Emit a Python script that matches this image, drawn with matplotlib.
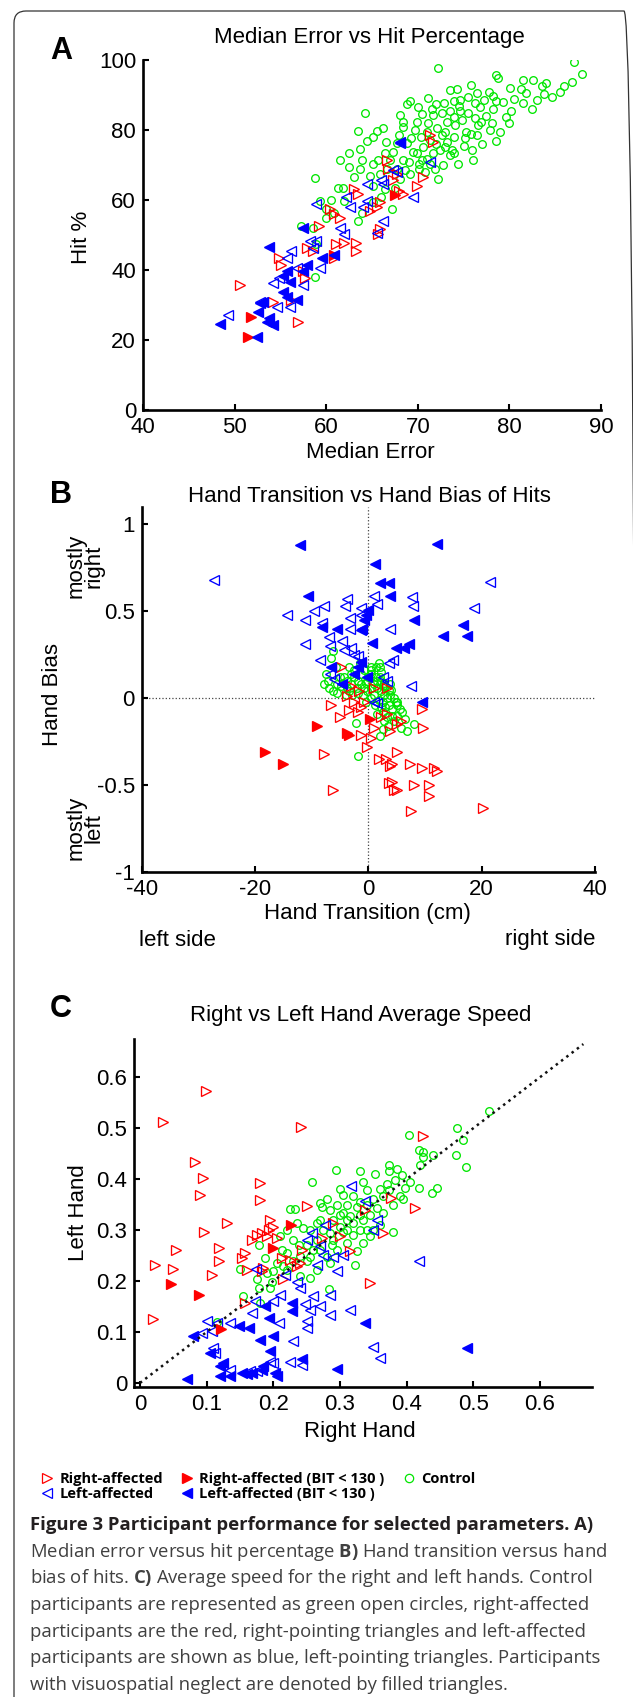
import numpy as np
import matplotlib
matplotlib.use("Agg")
import matplotlib.pyplot as plt
from matplotlib.lines import Line2D
from matplotlib.patches import FancyBboxPatch

plt.rcParams['font.family'] = ['Liberation Sans', 'DejaVu Sans']
plt.rcParams['axes.unicode_minus'] = False
plt.rcParams['mathtext.fontset'] = 'custom'
plt.rcParams['mathtext.rm'] = 'Open Sans'
plt.rcParams['mathtext.bf'] = 'Open Sans:bold'

# ---------------- data ----------------
# panel A: median error vs hit %
a_control = np.array([
    (72.2, 97.7), (87.1, 99.4), (87.9, 96.0), (86.8, 93.8), (78.5, 95.8), (78.8, 94.9), (75.8, 93.0),
    (82.6, 94.2), (81.5, 94.4), (80.1, 92.0), (81.3, 91.7), (81.8, 90.6), (83.6, 92.7), (83.8, 90.4),
    (84.7, 89.4), (81.5, 87.7), (80.2, 85.3), (79.6, 83.7), (78.1, 81.9), (78.2, 86.0), (77.8, 91.0),
    (78.2, 89.8), (78.5, 88.2), (77.2, 88.7), (76.2, 87.7), (73.5, 91.3), (74.3, 91.7), (71.1, 89.1),
    (69.1, 88.2), (68.8, 87.5), (72.0, 87.3), (72.9, 87.7), (73.9, 88.2), (74.6, 88.7), (64.2, 85.0),
    (68.1, 84.3), (68.4, 82.4), (68.4, 80.8), (69.9, 82.4), (69.7, 80.0), (71.1, 81.9), (71.7, 84.3),
    (72.6, 84.8), (66.2, 80.6), (65.6, 79.8), (63.5, 79.8), (65.1, 78.1), (61.5, 71.3), (62.5, 73.3),
    (58.8, 66.3), (61.3, 63.5), (63.7, 74.7), (63.9, 71.3), (63.7, 68.9), (59.3, 59.8), (60.0, 57.4),
    (60.0, 55.0), (57.2, 52.6), (58.6, 52.1), (58.9, 47.3), (58.8, 37.9), (67.2, 57.4), (72.2, 66.1),
    (75.9, 74.4), (75.2, 77.6), (76.6, 81.4), (75.3, 79.5), (75.8, 79.0), (73.5, 72.8), (74.4, 70.4),
    (73.7, 74.2), (72.8, 69.9), (71.9, 68.9), (65.9, 67.5), (65.1, 64.1), (66.4, 63.2), (68.1, 66.1),
    (69.1, 67.5), (67.0, 71.3), (68.4, 71.3), (69.9, 73.3), (70.6, 75.2), (68.8, 76.2), (67.7, 76.2),
    (65.1, 70.4), (64.8, 67.0), (65.1, 59.3), (63.9, 56.4), (63.5, 54.0), (60.8, 56.4), (61.9, 59.8),
    (72.1, 80.5), (72.6, 78.6), (73.2, 76.6), (74.1, 81.4), (74.8, 82.9), (75.5, 84.8), (76.2, 83.4),
    (74.6, 85.3), (73.9, 83.8), (73.2, 82.4), (71.3, 77.1), (71.0, 79.5), (70.4, 78.1), (69.3, 77.6),
    (71.7, 73.3), (72.4, 74.2), (73.0, 75.2), (71.0, 71.8), (70.1, 70.4), (71.3, 70.4), (69.5, 73.8),
    (67.3, 73.8), (66.4, 73.3), (65.7, 71.3), (66.6, 68.9), (67.7, 68.9), (68.6, 68.5), (70.1, 68.9),
    (70.8, 68.0), (76.8, 86.5), (77.5, 84.0), (76.9, 82.2), (77.9, 80.0), (76.5, 78.5), (77.0, 76.0),
    (75.0, 75.5), (74.0, 78.0), (73.0, 79.5), (74.5, 86.8), (75.5, 89.5), (76.5, 90.5), (79.3, 88.0),
    (80.5, 89.0), (71.5, 86.0), (70.5, 84.5), (70.0, 86.5), (73.5, 85.5), (72.0, 76.0), (69.0, 71.0),
    (68.0, 78.5), (66.5, 76.5), (64.5, 77.0), (62.5, 69.5), (63.0, 66.5), (61.8, 63.5), (60.5, 60.0),
    (66.0, 61.0), (67.5, 63.5), (70.5, 71.5), (74.0, 73.5), (76.0, 71.5), (78.5, 77.0), (79.0, 79.5),
    (80.0, 82.0), (82.5, 86.0), (83.0, 88.5), (85.5, 91.0), (86.0, 92.5), (84.0, 93.5)])
a_right = np.array([
    (50.6, 35.8), (56.9, 25.2), (71.3, 78.6), (71.7, 76.6), (70.6, 66.7), (69.9, 64.1), (68.4, 61.7),
    (67.9, 62.5), (66.6, 71.3), (66.8, 68.9), (67.7, 67.5), (67.3, 65.6), (63.0, 63.2), (63.5, 61.7),
    (60.4, 57.4), (60.8, 56.0), (61.5, 55.0), (59.2, 52.6), (63.3, 47.8), (63.3, 45.4), (61.9, 47.8),
    (61.1, 47.3), (60.8, 43.5), (57.9, 46.3), (58.6, 45.4), (54.9, 43.5), (55.1, 41.5), (57.5, 39.6),
    (57.7, 37.7), (54.2, 31.0), (56.2, 31.4), (65.9, 51.6), (65.7, 50.2), (64.8, 56.9), (65.5, 57.9),
    (65.9, 59.3)])
a_right_bit = np.array([(51.8, 26.6), (51.5, 20.9), (67.5, 61.3), (60.9, 44.4)])
a_left = np.array([
    (49.3, 27.1), (54.2, 36.3), (54.8, 37.7), (56.2, 45.4), (55.7, 43.5), (58.9, 58.8), (64.4, 64.6),
    (66.2, 64.6), (66.0, 65.6), (67.3, 68.5), (67.7, 68.0), (68.1, 76.2), (71.3, 70.9), (69.5, 60.8),
    (66.2, 54.0), (65.5, 50.7), (64.4, 59.8), (64.0, 57.9), (62.2, 60.8), (62.6, 57.9), (61.5, 52.1),
    (61.9, 50.2), (58.9, 48.3), (59.3, 40.6), (58.2, 48.3), (58.6, 46.3), (57.5, 35.8), (56.0, 29.5),
    (54.6, 29.5), (52.8, 31.0), (56.8, 40.6)])
a_left_bit = np.array([
    (48.4, 24.7), (52.4, 20.9), (53.8, 46.5), (57.5, 51.9), (59.5, 43.5), (57.9, 41.5), (57.5, 39.6),
    (55.7, 39.6), (55.3, 38.2), (56.0, 36.7), (56.8, 31.4), (55.3, 33.8), (55.7, 32.4), (53.1, 31.0),
    (52.8, 30.5), (53.8, 26.2), (54.2, 24.2), (53.5, 25.2), (52.6, 28.1), (68.1, 76.6), (60.8, 44.4)])

# panel B: hand transition (cm) vs hand bias
b_control = np.array([
    (-1.8, -0.33), (-2.1, -0.14), (2.1, -0.22), (6.9, -0.19), (8.0, -0.15), (5.7, -0.17), (4.8, -0.02),
    (5.0, -0.04), (3.3, -0.11), (4.2, -0.10), (2.8, -0.13), (1.9, 0.20), (2.1, 0.18), (2.2, 0.15),
    (-6.3, 0.27), (-6.6, 0.23), (-7.5, 0.14), (-7.8, 0.08), (-6.9, 0.06), (-6.3, 0.04), (-5.5, 0.03),
    (-4.3, 0.12), (-3.7, 0.10), (-3.1, 0.08), (-2.5, 0.12), (-1.9, 0.10), (-1.3, 0.08), (-0.8, 0.06),
    (-0.2, 0.04), (0.4, 0.06), (1.0, 0.08), (1.6, 0.06), (2.2, 0.04), (2.8, 0.02), (3.3, 0.00),
    (3.9, 0.02), (1.0, 0.02), (0.4, 0.00), (-0.2, 0.10), (-1.3, 0.14), (-2.5, 0.16), (-3.7, 0.06),
    (-4.9, 0.07), (0.4, 0.14), (1.3, 0.12), (2.2, 0.10), (3.0, 0.07), (1.9, -0.01), (2.5, -0.02),
    (3.6, -0.04), (4.2, -0.06), (-1.9, 0.03), (-2.8, 0.02), (-0.8, 0.16), (0.4, 0.18), (1.3, 0.18),
    (2.5, 0.07), (3.6, 0.05), (1.6, -0.09), (2.5, -0.08), (4.5, -0.13), (5.1, -0.02), (-7.2, 0.10),
    (-5.7, 0.18), (-5.0, 0.12), (-4.0, 0.02), (0.0, 0.12), (1.5, 0.10), (3.0, -0.05), (4.0, 0.05),
    (-1.0, 0.02), (2.0, 0.12), (5.5, -0.06), (-3.0, 0.14), (-4.5, 0.09), (-3.5, 0.04), (-2.0, 0.06),
    (-0.5, 0.09), (0.8, 0.10), (2.8, 0.09), (3.8, 0.08), (4.5, 0.00), (1.2, -0.04), (2.2, -0.05),
    (-0.5, -0.02), (0.5, 0.16), (-1.5, 0.20), (-3.5, 0.18), (-5.5, 0.08), (6.0, -0.08), (6.5, -0.12),
    (5.0, -0.10), (3.5, -0.16), (2.5, -0.18)])
b_right = np.array([
    (-6.6, -0.04), (-5.0, -0.11), (-7.8, -0.32), (-6.2, -0.53), (20.2, -0.63), (7.6, -0.65), (10.7, -0.56),
    (10.7, -0.50), (8.1, -0.50), (4.5, -0.53), (5.1, -0.53), (3.6, -0.49), (4.2, -0.48), (11.5, -0.40),
    (12.1, -0.42), (9.5, -0.40), (7.4, -0.38), (1.9, -0.35), (3.2, -0.35), (3.9, -0.39), (4.2, -0.38),
    (5.0, -0.31), (-0.3, -0.28), (0.4, -0.23), (-1.3, -0.21), (3.8, -0.19), (9.6, -0.17), (5.7, -0.13),
    (5.1, -0.15), (9.5, -0.06), (-3.7, 0.01), (-2.5, -0.02), (-3.4, -0.07), (-1.9, -0.08), (-1.3, -0.05),
    (-0.8, -0.02), (-4.9, 0.18), (2.2, -0.11), (3.3, -0.09), (1.0, -0.17), (-3.1, 0.07), (-1.6, 0.04),
    (1.0, 0.06), (3.3, 0.06)])
b_right_bit = np.array([(-18.2, -0.31), (-15.0, -0.38), (-9.1, -0.16), (-3.7, -0.20), (-3.5, -0.21), (0.3, -0.12)])
b_left = np.array([
    (-27.3, 0.68), (21.5, 0.67), (18.6, 0.52), (7.7, 0.58), (7.9, 0.53), (1.0, 0.59), (1.6, 0.54),
    (-3.7, 0.57), (-4.2, 0.53), (-1.3, 0.52), (-1.3, 0.48), (-9.6, 0.50), (-7.8, 0.53), (-14.4, 0.48),
    (-11.1, 0.45), (-8.1, 0.43), (-3.2, 0.46), (-3.2, 0.40), (3.8, 0.40), (-11.2, 0.31), (-6.9, 0.35),
    (-6.7, 0.30), (-4.6, 0.33), (-4.3, 0.28), (-3.1, 0.29), (-2.5, 0.25), (-1.9, 0.24), (-8.5, 0.22),
    (3.6, 0.20), (4.4, 0.22), (7.6, 0.07), (2.5, 0.12), (3.3, 0.10), (-6.7, 0.14), (-6.0, 0.11),
    (1.0, -0.02), (1.6, -0.03)])
b_left_bit = np.array([
    (-12.0, 0.88), (12.1, 0.89), (1.2, 0.77), (2.1, 0.66), (3.6, 0.66), (3.9, 0.59), (-10.6, 0.59),
    (0.0, 0.51), (-0.5, 0.48), (-0.8, 0.45), (-8.1, 0.41), (-5.5, 0.40), (-1.3, 0.39), (-1.1, 0.40),
    (0.7, 0.32), (8.1, 0.45), (13.2, 0.36), (16.7, 0.42), (17.4, 0.36), (4.8, 0.29), (6.3, 0.29),
    (7.2, 0.31), (-6.6, 0.18), (-4.6, 0.08), (-1.9, 0.18), (-1.3, 0.21), (-2.5, 0.14), (9.4, -0.02),
    (-0.2, 0.12)])

# panel C: right vs left hand average speed
c_control = np.array([
    (0.524, 0.533), (0.475, 0.501), (0.485, 0.477), (0.474, 0.448), (0.489, 0.424), (0.404, 0.487),
    (0.418, 0.458), (0.424, 0.454), (0.425, 0.444), (0.420, 0.428), (0.440, 0.448), (0.418, 0.382),
    (0.438, 0.373), (0.446, 0.382), (0.374, 0.428), (0.373, 0.416), (0.353, 0.410), (0.330, 0.416),
    (0.335, 0.395), (0.340, 0.379), (0.294, 0.417), (0.258, 0.394), (0.383, 0.399), (0.393, 0.408),
    (0.398, 0.382), (0.390, 0.366), (0.380, 0.350), (0.380, 0.297), (0.373, 0.379), (0.365, 0.366),
    (0.225, 0.341), (0.233, 0.341), (0.270, 0.354), (0.273, 0.346), (0.305, 0.369), (0.320, 0.366),
    (0.310, 0.350), (0.325, 0.346), (0.305, 0.333), (0.315, 0.327), (0.285, 0.340), (0.290, 0.320),
    (0.300, 0.307), (0.285, 0.294), (0.265, 0.314), (0.255, 0.301), (0.235, 0.314), (0.245, 0.304),
    (0.220, 0.301), (0.210, 0.288), (0.230, 0.281), (0.238, 0.271), (0.178, 0.271), (0.150, 0.224),
    (0.188, 0.245), (0.190, 0.216), (0.198, 0.199), (0.195, 0.186), (0.175, 0.203), (0.178, 0.186),
    (0.155, 0.170), (0.180, 0.157), (0.255, 0.206), (0.284, 0.184), (0.322, 0.231), (0.325, 0.258),
    (0.115, 0.119), (0.335, 0.275), (0.345, 0.288), (0.310, 0.275), (0.305, 0.297), (0.330, 0.301),
    (0.320, 0.314), (0.260, 0.261), (0.255, 0.248), (0.220, 0.255), (0.213, 0.261), (0.205, 0.235),
    (0.220, 0.222), (0.365, 0.333), (0.355, 0.343), (0.345, 0.330), (0.335, 0.320), (0.288, 0.271),
    (0.295, 0.261), (0.280, 0.248), (0.285, 0.235), (0.265, 0.222), (0.240, 0.209), (0.300, 0.330),
    (0.310, 0.300), (0.320, 0.290), (0.330, 0.330), (0.340, 0.350), (0.350, 0.360), (0.360, 0.380),
    (0.370, 0.390), (0.385, 0.420), (0.395, 0.360), (0.405, 0.395), (0.275, 0.300), (0.265, 0.280),
    (0.250, 0.270), (0.240, 0.250), (0.230, 0.240), (0.215, 0.230), (0.200, 0.220), (0.270, 0.320),
    (0.295, 0.350), (0.300, 0.380), (0.280, 0.360), (0.350, 0.300), (0.360, 0.310), (0.340, 0.300),
    (0.250, 0.240), (0.270, 0.260), (0.310, 0.320), (0.330, 0.355), (0.290, 0.280)])
c_right = np.array([
    (0.099, 0.572), (0.035, 0.512), (0.241, 0.503), (0.083, 0.433), (0.094, 0.403), (0.090, 0.368),
    (0.180, 0.393), (0.180, 0.359), (0.130, 0.314), (0.096, 0.297), (0.054, 0.261), (0.118, 0.265),
    (0.119, 0.240), (0.023, 0.231), (0.049, 0.224), (0.108, 0.212), (0.019, 0.125), (0.425, 0.484),
    (0.413, 0.344), (0.376, 0.363), (0.338, 0.340), (0.345, 0.196), (0.250, 0.348), (0.195, 0.320),
    (0.200, 0.307), (0.193, 0.301), (0.168, 0.281), (0.175, 0.291), (0.183, 0.294), (0.190, 0.288),
    (0.205, 0.284), (0.158, 0.255), (0.153, 0.245), (0.160, 0.222), (0.183, 0.219), (0.185, 0.225),
    (0.213, 0.245), (0.225, 0.242), (0.235, 0.229), (0.240, 0.235), (0.243, 0.261), (0.273, 0.284),
    (0.300, 0.288), (0.158, 0.157), (0.315, 0.258), (0.215, 0.203), (0.289, 0.314), (0.365, 0.294)])
c_right_bit = np.array([(0.226, 0.310), (0.199, 0.265), (0.046, 0.194), (0.089, 0.172), (0.121, 0.105)])
c_left = np.array([
    (0.316, 0.386), (0.338, 0.358), (0.355, 0.320), (0.350, 0.301), (0.419, 0.240), (0.258, 0.294),
    (0.250, 0.281), (0.278, 0.310), (0.270, 0.268), (0.275, 0.252), (0.290, 0.248), (0.305, 0.252),
    (0.265, 0.232), (0.295, 0.220), (0.174, 0.224), (0.218, 0.212), (0.235, 0.199), (0.240, 0.186),
    (0.210, 0.173), (0.200, 0.160), (0.173, 0.160), (0.168, 0.137), (0.260, 0.170), (0.285, 0.172),
    (0.248, 0.154), (0.255, 0.144), (0.270, 0.150), (0.285, 0.134), (0.315, 0.144), (0.250, 0.121),
    (0.250, 0.108), (0.208, 0.118), (0.230, 0.082), (0.100, 0.121), (0.115, 0.118), (0.135, 0.118),
    (0.108, 0.101), (0.093, 0.098), (0.110, 0.069), (0.113, 0.059), (0.200, 0.039), (0.195, 0.042),
    (0.225, 0.042), (0.243, 0.036), (0.350, 0.071), (0.360, 0.049), (0.135, 0.026), (0.165, 0.023),
    (0.175, 0.023)])
c_left_bit = np.array([
    (0.490, 0.069), (0.338, 0.118), (0.295, 0.028), (0.243, 0.046), (0.228, 0.157), (0.228, 0.141),
    (0.193, 0.127), (0.188, 0.150), (0.200, 0.092), (0.180, 0.085), (0.195, 0.062), (0.163, 0.108),
    (0.148, 0.111), (0.080, 0.092), (0.105, 0.059), (0.070, 0.007), (0.120, 0.033), (0.120, 0.013),
    (0.135, 0.013), (0.153, 0.020), (0.160, 0.018), (0.168, 0.020), (0.183, 0.026), (0.185, 0.033),
    (0.205, 0.013), (0.203, 0.020), (0.125, 0.039)])

a_xticks = [40, 50, 60, 70, 80, 90]
a_yticks = [0, 20, 40, 60, 80, 100]
b_xticks = [-40, -20, 0, 20, 40]
b_yticks = [-1, -0.5, 0, 0.5, 1]
b_ylabels = ['-1', '-0.5', '0', '0.5', '1']
c_ticks = [0, 0.1, 0.2, 0.3, 0.4, 0.5, 0.6]
c_labels = ['0', '0.1', '0.2', '0.3', '0.4', '0.5', '0.6']
unity_end = 0.665

GREEN = '#00e600'

# ---------------- layout ----------------
W, H = 633, 1697
fig = plt.figure(figsize=(W / 100, H / 100), dpi=100)


def rect(left, right, top, bottom):
    return [left / W, 1 - bottom / H, (right - left) / W, (bottom - top) / H]


def put(x, y, s, **kw):
    return fig.text(x / W, 1 - y / H, s, **kw)


def style(ax):
    for side in ['top', 'right']:
        ax.spines[side].set_visible(False)
    for side in ['left', 'bottom']:
        ax.spines[side].set_linewidth(1.9)
    ax.tick_params(direction='in', length=4, width=1.5, labelsize=16, pad=5)
    ax.patch.set_alpha(0)


def groups(ax, ctrl, right, right_bit, left, left_bit):
    ax.plot(ctrl[:, 0], ctrl[:, 1], ls='none', marker='o', ms=5.5, mfc='none', mec=GREEN, mew=0.95)
    ax.plot(right[:, 0], right[:, 1], ls='none', marker='>', ms=6.5, mfc='none', mec='red', mew=0.95)
    ax.plot(left[:, 0], left[:, 1], ls='none', marker='<', ms=6.5, mfc='none', mec='blue', mew=0.95)
    ax.plot(right_bit[:, 0], right_bit[:, 1], ls='none', marker='>', ms=6.5, mfc='red', mec='red', mew=0.95)
    ax.plot(left_bit[:, 0], left_bit[:, 1], ls='none', marker='<', ms=6.5, mfc='blue', mec='blue', mew=0.95)


# Panel A
ax1 = fig.add_axes(rect(143, 601, 60, 410))
groups(ax1, a_control, a_right, a_right_bit, a_left, a_left_bit)
ax1.set_xlim(40, 90)
ax1.set_ylim(0, 100)
ax1.set_xticks(a_xticks)
ax1.set_yticks(a_yticks)
style(ax1)

# Panel B
ax2 = fig.add_axes(rect(141.7, 595, 507, 872))
ax2.axhline(0, ls=':', color='#444444', lw=0.9, zorder=0)
ax2.axvline(0, ls=':', color='#444444', lw=0.9, zorder=0)
groups(ax2, b_control, b_right, b_right_bit, b_left, b_left_bit)
ax2.set_xlim(-40, 40)
ax2.set_ylim(-1, 1.1)
ax2.set_xticks(b_xticks)
ax2.set_yticks(b_yticks, b_ylabels)
style(ax2)

# Panel C
ax3 = fig.add_axes(rect(134, 592, 1039, 1387))
groups(ax3, c_control, c_right, c_right_bit, c_left, c_left_bit)
ax3.plot([0, unity_end], [0, unity_end], ls=':', color='#111111', lw=1.8)
ax3.set_xlim(-0.009, 0.678)
ax3.set_ylim(-0.008, 0.675)
ax3.set_xticks(c_ticks, c_labels)
ax3.set_yticks(c_ticks, c_labels)
style(ax3)

# labels and titles
lab = dict(fontsize=16, ha='center', va='center')
put(61, 51, 'A', fontsize=22, fontweight='bold', ha='center', va='center')
put(61, 495, 'B', fontsize=22, fontweight='bold', ha='center', va='center')
put(61, 1009, 'C', fontsize=22, fontweight='bold', ha='center', va='center')
put(369, 37, 'Median Error vs Hit Percentage', **lab)
put(369, 497, 'Hand Transition vs Hand Bias of Hits', **lab)
put(361, 1015, 'Right vs Left Hand Average Speed', **lab)
put(370, 452, 'Median Error', **lab)
put(367, 913, 'Hand Transition (cm)', **lab)
put(360, 1432, 'Right Hand', **lab)
put(82, 237, 'Hit %', rotation=90, **lab)
put(52, 695, 'Hand Bias', rotation=90, **lab)
put(85, 566, 'mostly\nright', rotation=90, linespacing=0.85, **lab)
put(85, 828, 'mostly\nleft', rotation=90, linespacing=0.85, **lab)
put(78, 1213, 'Left Hand', rotation=90, **lab)
put(139, 940, 'left side', fontsize=16, ha='left', va='center')
put(595, 940, 'right side', fontsize=16, ha='right', va='center')

# legend
handles = [
    Line2D([], [], ls='none', marker='>', ms=7, mfc='none', mec='red', mew=0.9),
    Line2D([], [], ls='none', marker='<', ms=7, mfc='none', mec='blue', mew=0.9),
    Line2D([], [], ls='none', marker='>', ms=7, mfc='red', mec='red'),
    Line2D([], [], ls='none', marker='<', ms=7, mfc='blue', mec='blue'),
    Line2D([], [], ls='none', marker='o', ms=6, mfc='none', mec=GREEN, mew=0.9),
]
names = ['Right-affected', 'Left-affected', 'Right-affected (BIT < 130 )',
         'Left-affected (BIT < 130 )', 'Control']
fig.legend(handles, names, loc='upper left', bbox_to_anchor=(41 / W, 1 - 1472 / H), ncol=3,
           frameon=False, handlelength=0.8, handletextpad=0.45, columnspacing=1.25,
           labelspacing=0.1, borderpad=0, borderaxespad=0,
           prop={'family': 'Open Sans', 'weight': 'bold', 'size': 10.5})

# caption
cap = dict(family='Open Sans', fontsize=13.3, ha='left', va='baseline', color='#404040')
put(30, 1530, 'Figure 3 Participant performance for selected parameters. A)',
    family='Open Sans', fontsize=13.3, fontweight='bold', ha='left', va='baseline', color='#231f20')
put(30, 1557, r'Median error versus hit percentage $\mathbf{B)}$ Hand transition versus hand', **cap)
put(30, 1583, r'bias of hits. $\mathbf{C)}$ Average speed for the right and left hands. Control', **cap)
put(30, 1610, 'participants are represented as green open circles, right-affected', **cap)
put(30, 1637, 'participants are the red, right-pointing triangles and left-affected', **cap)
put(30, 1663, 'participants are shown as blue, left-pointing triangles. Participants', **cap)
put(30, 1690, 'with visuospatial neglect are denoted by filled triangles.', **cap)

# rounded frame (right and bottom edges fall outside the picture)
frame = FancyBboxPatch((0.14, -0.5), 6.22, 16.86 + 0.5, boxstyle='round,pad=0,rounding_size=0.12',
                       transform=fig.dpi_scale_trans, fill=False, ec='#333333', lw=0.9)
fig.add_artist(frame)

fig.savefig('out.png', dpi=100)
